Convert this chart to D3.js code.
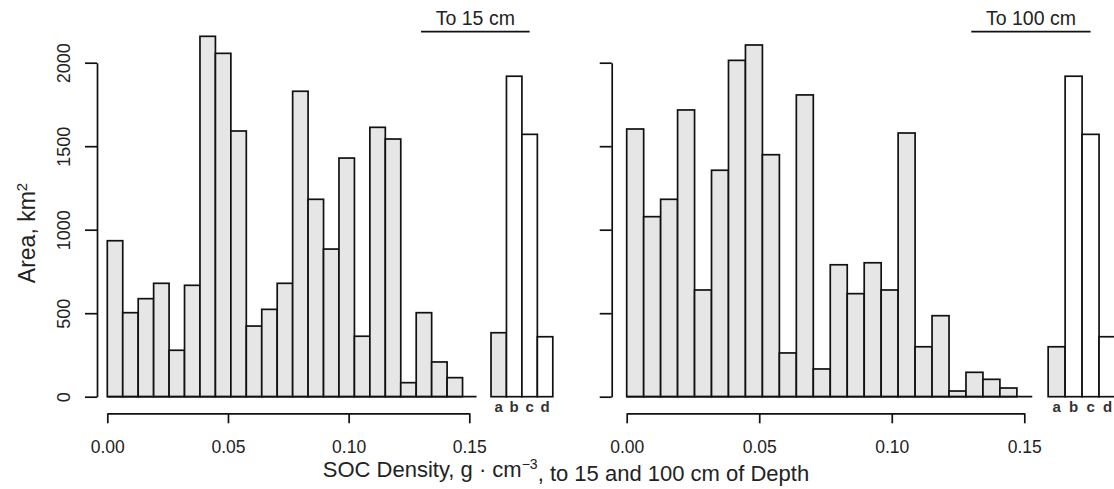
<!DOCTYPE html>
<html>
<head>
<meta charset="utf-8">
<script src="https://cdn.jsdelivr.net/npm/d3@7"></script>
<style>
  html, body { margin: 0; padding: 0; background: #ffffff; }
  svg { display: block; }
  text { font-family: "Liberation Sans", Arial, sans-serif; fill: #222; }
</style>
</head>
<body>
<svg id="chart" width="1114" height="489"></svg>
<script>
// Histogram bin width (g/cm3) and bin counts (area, km2)
const binWidth = 0.0064;
const soc15 = [934, 503, 587, 679, 278, 667, 2158, 2056, 1591, 423, 523, 679,
               1829, 1182, 884, 1429, 362, 1613, 1543, 84, 503, 208, 114];
const soc100 = [1603, 1078, 1182, 1717, 639, 1356, 2014, 2106, 1449, 262, 1807, 166,
                790, 617, 802, 639, 1579, 299, 485, 34, 146, 104, 52];

// Summary classes drawn beside each histogram
const classLabels = ["a", "b", "c", "d"];
const class15 = [383, 1919, 1571, 359];
const class100 = [299, 1919, 1571, 359];
const classStart = 0.159;

const yTicks = [0, 500, 1000, 1500, 2000];
const xTicks = [0, 0.05, 0.10, 0.15];
const panelTitles = ["To 15 cm", "To 100 cm"];
const titleSpan = [0.13, 0.175];
const baselineEnd = 0.153;

const svg = d3.select("#chart");
const fill = "#e6e6e6";
const ink = "#111";

const y = d3.scaleLinear().domain([0, 2000]).range([396.7, 62.7]);

const panels = [
  { counts: soc15, classes: class15, title: panelTitles[0], x0: 107.3, x1: 469.3, axisX: 97, labels: true },
  { counts: soc100, classes: class100, title: panelTitles[1], x0: 626.7, x1: 1024.3, axisX: 611.7, labels: false }
];

panels.forEach(p => {
  const x = d3.scaleLinear().domain([0, 0.15]).range([p.x0, p.x1]);
  const g = svg.append("g");
  const bw = x(binWidth) - x(0);

  // histogram bars
  g.selectAll("rect.bin").data(p.counts).enter().append("rect")
    .attr("class", "bin")
    .attr("x", (d, i) => x(i * binWidth))
    .attr("y", d => y(d))
    .attr("width", bw)
    .attr("height", d => y(0) - y(d))
    .attr("fill", fill)
    .attr("stroke", ink)
    .attr("stroke-width", 1.7);

  // baseline under the bars
  g.append("line")
    .attr("x1", x(0)).attr("x2", x(baselineEnd))
    .attr("y1", y(0)).attr("y2", y(0))
    .attr("stroke", ink).attr("stroke-width", 1.7);

  // class bars: first shaded, the rest open
  g.selectAll("rect.cls").data(p.classes).enter().append("rect")
    .attr("class", "cls")
    .attr("x", (d, i) => x(classStart + i * binWidth))
    .attr("y", d => y(d))
    .attr("width", bw)
    .attr("height", d => y(0) - y(d))
    .attr("fill", (d, i) => i === 0 ? fill : "#ffffff")
    .attr("stroke", ink)
    .attr("stroke-width", 1.7);

  g.selectAll("text.cls").data(classLabels).enter().append("text")
    .attr("class", "cls")
    .attr("x", (d, i) => x(classStart + (i + 0.5) * binWidth))
    .attr("y", y(0) + 15)
    .attr("text-anchor", "middle")
    .attr("font-size", 15)
    .attr("font-weight", "bold")
    .style("fill", "#333")
    .text(d => d);

  // panel title with rule beneath
  g.append("text")
    .attr("x", x((titleSpan[0] + titleSpan[1]) / 2))
    .attr("y", 25)
    .attr("text-anchor", "middle")
    .attr("font-size", 19.5)
    .text(p.title);
  g.append("line")
    .attr("x1", x(titleSpan[0])).attr("x2", x(titleSpan[1]))
    .attr("y1", 31.7).attr("y2", 31.7)
    .attr("stroke", ink).attr("stroke-width", 1.7);

  // x axis
  const xa = g.append("g")
    .attr("transform", `translate(0,413.3)`)
    .call(d3.axisBottom(x).tickValues(xTicks).tickSize(10).tickSizeOuter(0)
      .tickPadding(17).tickFormat(d3.format(".2f")));
  xa.select(".domain").attr("stroke", ink).attr("stroke-width", 1.7);
  xa.selectAll(".tick line").attr("stroke", ink).attr("stroke-width", 1.7);
  xa.selectAll(".tick text").attr("font-size", 17.5).attr("font-family", null).style("fill", "#222");

  // y axis
  const ya = g.append("g")
    .attr("transform", `translate(${p.axisX},0)`)
    .call(d3.axisLeft(y).tickValues(yTicks).tickSize(12).tickSizeOuter(0)
      .tickFormat(p.labels ? d3.format("d") : ""));
  ya.select(".domain").attr("stroke", ink).attr("stroke-width", 1.7);
  ya.selectAll(".tick line").attr("stroke", ink).attr("stroke-width", 1.7);
  ya.selectAll(".tick text")
    .attr("transform", "rotate(-90)")
    .attr("x", 0).attr("y", -27).attr("dy", 0)
    .attr("text-anchor", "middle")
    .attr("font-size", 18).attr("font-family", null)
    .style("fill", "#222");
});

// y axis title
const yt = svg.append("text")
  .attr("transform", "translate(35,233) rotate(-90)")
  .attr("text-anchor", "middle")
  .attr("font-size", 23);
yt.append("tspan").text("Area, km");
yt.append("tspan").attr("dy", "-0.55em").attr("font-size", 15).text("2");

// x axis title
const xt = svg.append("text")
  .attr("x", 566).attr("y", 477)
  .attr("text-anchor", "middle")
  .attr("font-size", 22);
xt.append("tspan").text("SOC Density, g \u00b7 cm");
xt.append("tspan").attr("dy", "-0.55em").attr("font-size", 14).text("\u22123");
xt.append("tspan").attr("dy", "0.55em").text(", to 15 and 100 cm of Depth");
</script>
</body>
</html>
